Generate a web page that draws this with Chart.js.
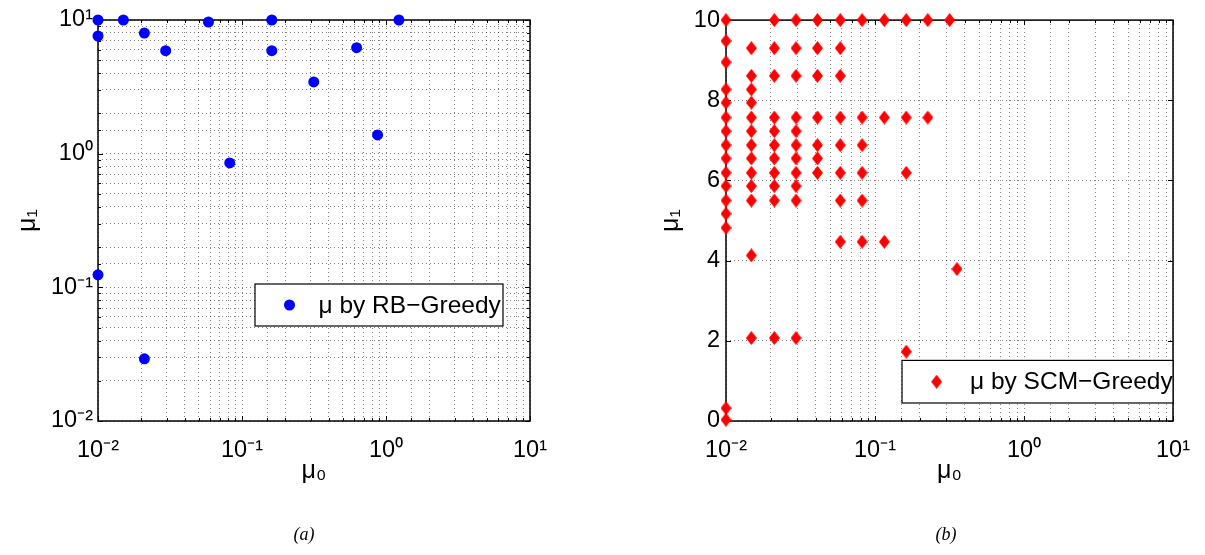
<!DOCTYPE html>
<html><head><meta charset="utf-8">
<script src="https://cdn.jsdelivr.net/npm/chart.js@4.4.0/dist/chart.umd.min.js"></script>
<style>
html,body{margin:0;padding:0;background:#fff;width:1205px;height:555px;overflow:hidden;}
#wrapA{position:absolute;left:0;top:0;width:604px;height:555px;}
#wrapB{position:absolute;left:604px;top:0;width:601px;height:555px;}
</style></head><body>
<div id="wrapA"><canvas id="cA" width="604" height="555"></canvas></div>
<div id="wrapB"><canvas id="cB" width="601" height="555"></canvas></div>
<script>
// ---- data: (a) RB-Greedy ----
const rbMu0 = [0.01, 0.015, 0.0585, 0.161, 1.23, 0.01, 0.021, 0.0295, 0.161, 0.625, 0.315, 0.874, 0.0822, 0.01, 0.021];
const rbMu1 = [10, 10, 9.66, 10, 10, 7.59, 7.99, 5.90, 5.90, 6.21, 3.44, 1.38, 0.853, 0.124, 0.0292];

// ---- data: (b) SCM-Greedy (grouped by mu0 column) ----
const scmMu0 = [
  0.01,0.01,0.01,0.01,0.01,0.01,0.01,0.01,0.01,0.01,0.01,0.01,0.01,0.01,0.01,0.01,
  0.0148,0.0148,0.0148,0.0148,0.0148,0.0148,0.0148,0.0148,0.0148,0.0148,0.0148,0.0148,0.0148,
  0.0211,0.0211,0.0211,0.0211,0.0211,0.0211,0.0211,0.0211,0.0211,0.0211,0.0211,
  0.0295,0.0295,0.0295,0.0295,0.0295,0.0295,0.0295,0.0295,0.0295,0.0295,0.0295,
  0.0411,0.0411,0.0411,0.0411,0.0411,0.0411,0.0411,
  0.0585,0.0585,0.0585,0.0585,0.0585,0.0585,0.0585,0.0585,
  0.0819,0.0819,0.0819,0.0819,0.0819,0.0819,
  0.1155,0.1155,0.1155,
  0.162,0.162,0.162,0.162,
  0.226,0.226,
  0.317,
  0.355
];
const scmMu1 = [
  10,9.48,8.95,8.27,7.94,7.57,7.23,6.88,6.55,6.19,5.86,5.50,5.17,4.82,0.32,0.03,
  9.30,8.61,8.27,7.94,7.57,7.23,6.88,6.55,6.19,5.86,5.50,4.13,2.07,
  10,9.30,8.61,7.57,7.23,6.88,6.55,6.19,5.86,5.50,2.07,
  10,9.30,8.61,7.57,7.23,6.88,6.55,6.19,5.86,5.50,2.07,
  10,9.30,8.61,7.57,6.88,6.55,6.19,
  10,9.30,8.61,7.57,6.88,6.19,5.50,4.47,
  10,7.57,6.88,6.19,5.50,4.47,
  10,7.57,4.47,
  10,7.57,6.19,1.73,
  10,7.57,
  10,
  3.79
];

// ---- tick labels / texts ----
const logTickValues = [0.01, 0.1, 1, 10];
const logTickLabels = ['10\u207B\u00B2', '10\u207B\u00B9', '10\u2070', '10\u00B9'];
const linTickValues = [0, 2, 4, 6, 8, 10];
const linTickLabels = ['0', '2', '4', '6', '8', '10'];
const rbLabel = '\u03BC by RB\u2212Greedy';
const scmLabel = '\u03BC by SCM\u2212Greedy';
const xTitle = '\u03BC\u2080';
const yTitle = '\u03BC\u2081';
const captionA = '(a)';
const captionB = '(b)';

const FONT = "'Liberation Sans', Arial, Helvetica, sans-serif";
const gridColor = 'rgba(0,0,0,0.5)';

function isDecade(v){ const l = Math.log10(v); return Math.abs(l - Math.round(l)) < 1e-6; }
function logLabel(v){
  for (let i = 0; i < logTickValues.length; i++) if (Math.abs(v - logTickValues[i]) / logTickValues[i] < 1e-6) return logTickLabels[i];
  return '';
}
function linLabel(v){
  const i = linTickValues.indexOf(v); return i >= 0 ? linTickLabels[i] : '';
}

function diamond(w, h, color){
  const c = document.createElement('canvas'); c.width = w; c.height = h;
  const g = c.getContext('2d'); g.fillStyle = color; g.beginPath();
  g.moveTo(w/2, 0); g.lineTo(w, h/2); g.lineTo(w/2, h); g.lineTo(0, h/2); g.closePath(); g.fill();
  return c;
}
const redDiamond = diamond(11, 14, '#ff0000');

const framePlugin = {
  id: 'frame',
  beforeDatasetsDraw(chart){
    const {ctx, chartArea: a} = chart;
    ctx.save();
    ctx.strokeStyle = '#000'; ctx.lineWidth = 1;
    const xs = chart.scales.x, ys = chart.scales.y;
    xs.ticks.forEach(t => {
      const p = Math.round(xs.getPixelForValue(t.value)) + 0.5;
      const len = (xs.type === 'logarithmic' && !isDecade(t.value)) ? 3 : 5;
      ctx.beginPath(); ctx.moveTo(p, a.bottom); ctx.lineTo(p, a.bottom - len);
      ctx.moveTo(p, a.top); ctx.lineTo(p, a.top + len); ctx.stroke();
    });
    ys.ticks.forEach(t => {
      const p = Math.round(ys.getPixelForValue(t.value)) + 0.5;
      const len = (ys.type === 'logarithmic' && !isDecade(t.value)) ? 3 : 5;
      ctx.beginPath(); ctx.moveTo(a.left, p); ctx.lineTo(a.left + len, p);
      ctx.moveTo(a.right, p); ctx.lineTo(a.right - len, p); ctx.stroke();
    });
    ctx.lineWidth = 1.5;
    ctx.strokeRect(a.left, a.top, a.right - a.left, a.bottom - a.top);
    ctx.restore();
  }
};

const boxLegendPlugin = {
  id: 'boxLegend',
  afterDatasetsDraw(chart, args, o){
    const {ctx, chartArea: a} = chart;
    const ds = chart.data.datasets[0];
    const bx = o.fromRight ? a.right - o.dx - o.w : a.left + o.dx;
    const by = o.fromBottom ? a.bottom - o.dy - o.h : a.top + o.dy;
    ctx.save();
    ctx.fillStyle = '#fff'; ctx.fillRect(bx, by, o.w, o.h);
    ctx.strokeStyle = '#000'; ctx.lineWidth = 1.2; ctx.strokeRect(bx, by, o.w, o.h);
    const my = by + o.h / 2;
    if (o.marker === 'circle') {
      ctx.fillStyle = ds.backgroundColor; ctx.beginPath();
      ctx.arc(bx + o.mx, my, ds.pointRadius, 0, Math.PI * 2); ctx.fill();
    } else {
      ctx.drawImage(redDiamond, bx + o.mx - redDiamond.width/2, my - redDiamond.height/2);
    }
    ctx.fillStyle = '#000'; ctx.font = o.fontSize + 'px ' + FONT;
    ctx.textAlign = 'left'; ctx.textBaseline = 'middle';
    ctx.fillText(ds.label, bx + o.tx, my + 1);
    ctx.restore();
  }
};

const captionPlugin = {
  id: 'caption',
  afterDraw(chart, args, o){
    const ctx = chart.ctx;
    ctx.save(); ctx.fillStyle = '#000';
    ctx.font = "italic 18px 'Liberation Serif', 'Times New Roman', serif";
    ctx.textAlign = 'center'; ctx.textBaseline = 'middle';
    ctx.fillText(o.text, o.x, o.y);
    ctx.restore();
  }
};

function tickFont(){ return {family: FONT, size: 23.5}; }
function titleFont(){ return {family: FONT, size: 25}; }

function logAxis(extra){
  return Object.assign({
    type: 'logarithmic', min: 0.01, max: 10,
    grid: {color: gridColor, lineWidth: 1, drawTicks: false},
    border: {display: false, dash: [1, 3]},
    ticks: {autoSkip: false, maxRotation: 0, minRotation: 0, color: '#000', font: tickFont(), callback: (v) => logLabel(v)}
  }, extra);
}

// ---- chart (a) ----
new Chart(document.getElementById('cA'), {
  type: 'scatter',
  data: {datasets: [{
    label: rbLabel,
    data: rbMu0.map((x, i) => ({x: x, y: rbMu1[i]})),
    pointRadius: 5.5, pointHoverRadius: 5.5, borderWidth: 0,
    backgroundColor: '#0000ff', borderColor: '#0000ff', clip: false
  }]},
  options: {
    responsive: false, animation: false, devicePixelRatio: 1,
    layout: {padding: {left: 0, right: 74, top: 20, bottom: 0}},
    plugins: {
      legend: {display: false}, tooltip: {enabled: false},
      boxLegend: {fromRight: false, fromBottom: false, dx: 157, dy: 264, w: 248, h: 42, mx: 34.5, tx: 63.5, fontSize: 24.5, marker: 'circle'},
      caption: {text: captionA, x: 304, y: 535}
    },
    scales: {
      x: logAxis({position: 'bottom', afterFit(s){ s.height = 134; },
        ticks: {autoSkip: false, maxRotation: 0, minRotation: 0, padding: 15, color: '#000', font: tickFont(), callback: (v) => logLabel(v)},
        title: {display: true, text: xTitle, color: '#000', font: titleFont(), padding: {top: 0, bottom: 69}}}),
      y: logAxis({position: 'left', afterFit(s){ s.width = 98; },
        ticks: {autoSkip: false, padding: 5, color: '#000', font: tickFont(), callback: (v) => logLabel(v)},
        title: {display: true, text: yTitle, color: '#000', font: titleFont(), padding: {top: 13, bottom: 0}}})
    }
  },
  plugins: [framePlugin, boxLegendPlugin, captionPlugin]
});

// ---- chart (b) ----
new Chart(document.getElementById('cB'), {
  type: 'scatter',
  data: {datasets: [{
    label: scmLabel,
    data: scmMu0.map((x, i) => ({x: x, y: scmMu1[i]})),
    pointStyle: redDiamond, pointRadius: 6, pointHoverRadius: 6, borderWidth: 0,
    backgroundColor: '#ff0000', borderColor: '#ff0000', clip: false
  }]},
  options: {
    responsive: false, animation: false, devicePixelRatio: 1,
    layout: {padding: {left: 0, right: 28, top: 20, bottom: 0}},
    plugins: {
      legend: {display: false}, tooltip: {enabled: false},
      boxLegend: {fromRight: true, fromBottom: true, dx: 0, dy: 18, w: 271, h: 42.6, mx: 34.6, tx: 68, fontSize: 24.5, marker: 'diamond'},
      caption: {text: captionB, x: 342, y: 535}
    },
    scales: {
      x: logAxis({position: 'bottom', afterFit(s){ s.height = 134; },
        ticks: {autoSkip: false, maxRotation: 0, minRotation: 0, padding: 15, color: '#000', font: tickFont(), callback: (v) => logLabel(v)},
        title: {display: true, text: xTitle, color: '#000', font: titleFont(), padding: {top: 0, bottom: 69}}}),
      y: {
        type: 'linear', position: 'left', min: 0, max: 10,
        afterFit(s){ s.width = 122; },
        grid: {color: gridColor, lineWidth: 1, drawTicks: false},
        border: {display: false, dash: [1, 3]},
        ticks: {stepSize: 2, autoSkip: false, padding: 6, color: '#000', font: tickFont(), callback: (v) => linLabel(v)},
        title: {display: true, text: yTitle, color: '#000', font: titleFont(), padding: {top: 52, bottom: 0}}
      }
    }
  },
  plugins: [framePlugin, boxLegendPlugin, captionPlugin]
});
</script>
</body></html>
